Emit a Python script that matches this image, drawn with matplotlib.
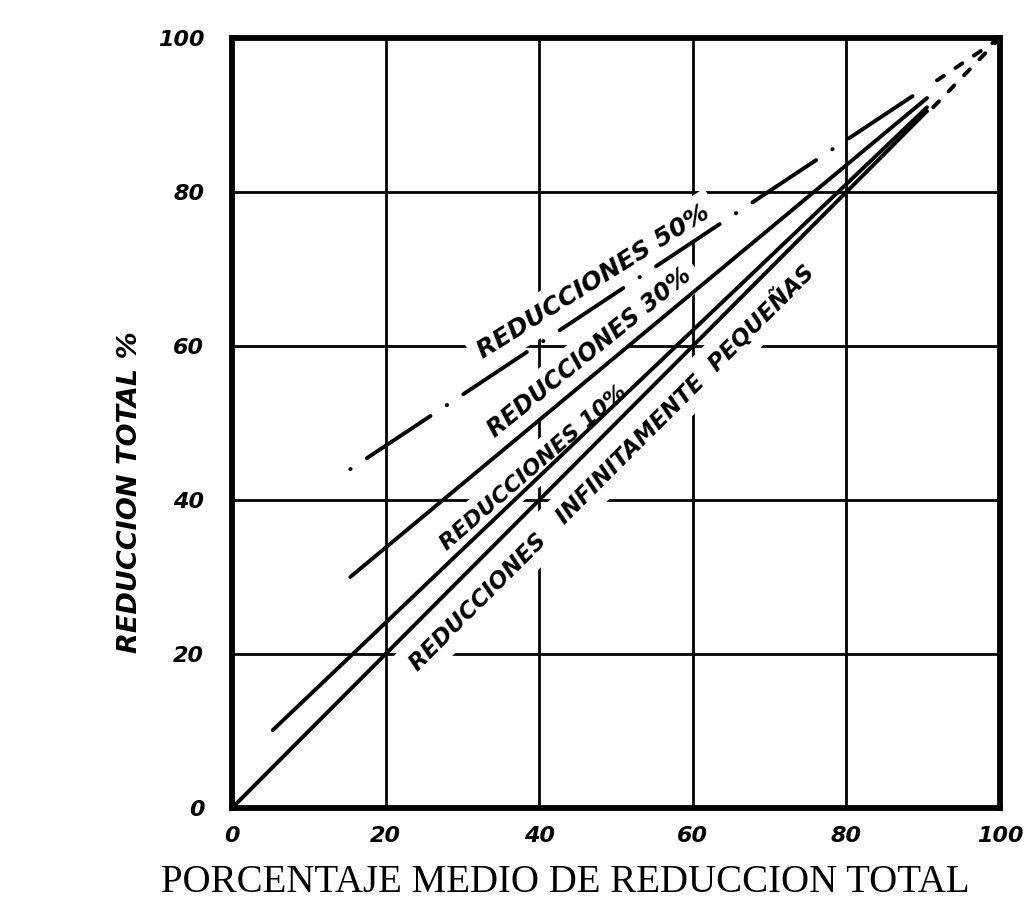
import matplotlib
matplotlib.use("Agg")
import matplotlib.pyplot as plt

# start / end points of each straight curve
inf_x = [0.0, 90.5]
inf_y = [0.0, 90.5]
r10_x = [5.3, 90.5]
r10_y = [10.1, 91.0]
r30_x = [15.4, 90.5]
r30_y = [30.0, 92.2]
r50_x = [15.4, 90.5]
r50_y = [44.0, 93.7]
# dashed continuations into the 100/100 corner
tail_low_x = [91.3, 100.0]
tail_low_y = [91.0, 100.0]
tail_up_x = [91.8, 100.0]
tail_up_y = [94.5, 100.0]

ticks = [0, 20, 40, 60, 80, 100]
curve_labels = ["REDUCCIONES 50%", "REDUCCIONES 30%", "REDUCCIONES 10%",
                "REDUCCIONES   INFINITAMENTE  PEQUEÑAS"]

plt.rcParams['lines.scale_dashes'] = False

fig = plt.figure(figsize=(10.34, 9.07), dpi=100)
ax = fig.add_axes([0.2244, 0.1092, 0.7427, 0.8489])
ax.set_xlim(0, 100)
ax.set_ylim(0, 100)
ax.set_xticks(ticks)
ax.set_yticks(ticks)
ax.grid(True, color='black', lw=2.0)
ax.set_axisbelow(True)
for s in ax.spines.values():
    s.set_linewidth(4.2)

hand = dict(family='DejaVu Sans', fontweight='bold', style='italic')
ax.tick_params(length=0)
ax.tick_params(axis='x', pad=13)
ax.tick_params(axis='y', pad=20)
for t in ax.get_xticklabels():
    t.set(fontsize=16, **hand)
for t in ax.get_yticklabels():
    t.set(fontsize=16, **hand)

line = dict(color='black', lw=2.8, solid_capstyle='round', dash_capstyle='round', zorder=3)
ax.plot(inf_x, inf_y, **line)
ax.plot(r10_x, r10_y, **line)
ax.plot(r30_x, r30_y, **line)
ax.plot(r50_x, r50_y, ls=(0, (0.3, 14, 55, 14)), **line)
ax.plot(tail_low_x, tail_low_y, ls=(0, (6, 10)), **line)
ax.plot(tail_up_x, tail_up_y, ls=(0, (6, 10)), **line)

# white boxes behind the lettering break the grid, as on the drawing
box = dict(facecolor='white', edgecolor='none', pad=6)
lab = dict(ha='center', va='center', rotation_mode='anchor', bbox=box, zorder=2, **hand)
ax.text(47.1, 68.4, curve_labels[0], rotation=32, fontsize=18, **lab)
ax.text(46.6, 59.1, curve_labels[1], rotation=39, fontsize=17, **lab)
ax.text(39.3, 44.2, curve_labels[2], rotation=41, fontsize=16, **lab)
ax.text(49.4, 44.2, curve_labels[3], rotation=45, fontsize=16.5, **lab)

ax.set_ylabel('REDUCCION TOTAL %', fontsize=19.5, va='center', **hand)
ax.yaxis.set_label_coords(-0.133, 0.41)
ax.set_xlabel('PORCENTAJE MEDIO DE REDUCCION TOTAL', family='Liberation Serif',
              fontsize=28, va='center')
ax.xaxis.set_label_coords(0.434, -0.097)

fig.savefig('out.png', dpi=100)
